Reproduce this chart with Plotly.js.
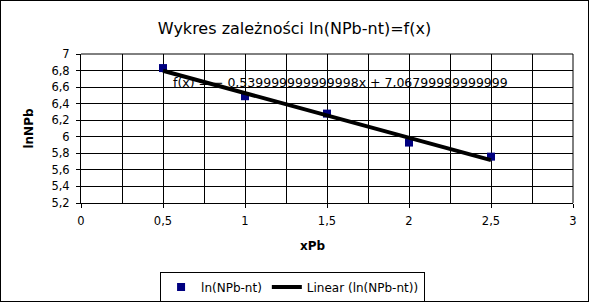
<!DOCTYPE html>
<html><head><meta charset="utf-8">
<script src="https://cdn.plot.ly/plotly-3.0.1.min.js"></script>
<style>
html,body{margin:0;padding:0;background:#fff;}
#wrap{position:absolute;left:0;top:0;width:587px;height:300px;border:1px solid #000;}
#chart{width:587px;height:300px;}
</style></head>
<body><div id="wrap"><div id="chart"></div></div>
<script>
const xValues = [0.5, 1, 1.5, 2, 2.5];
const yValues = [6.83, 6.49, 6.28, 5.93, 5.76];
const trendX = [0.5, 2.5];
const trendY = [6.798, 5.718];
const seriesName = 'ln(NPb-nt)';
const trendName = 'Linear (ln(NPb-nt))';
const equationText = 'f(x) = − 0,539999999999998x + 7,06799999999999';

const font = 'DejaVu Sans, sans-serif';
const traces = [
  {x: xValues, y: yValues, type: 'scatter', mode: 'markers', name: seriesName,
   marker: {symbol: 'square', size: 8, color: '#000080'}},
  {x: trendX, y: trendY, type: 'scatter', mode: 'lines', name: trendName,
   line: {color: '#000', width: 4}}
];
const layout = {
  width: 587, height: 300,
  margin: {l: 80, r: 15, t: 53, b: 98, autoexpand: false},
  paper_bgcolor: '#fff', plot_bgcolor: '#fff',
  separators: ', ',
  font: {family: font, size: 12, color: '#000'},
  title: {text: 'Wykres zależności ln(NPb-nt)=f(x)', font: {family: font, size: 16, color: '#000'},
          x: 0.5, xanchor: 'center', y: 0.91, yanchor: 'middle'},
  xaxis: {range: [0, 3], dtick: 0.5, tick0: 0, showgrid: true, gridcolor: '#000', gridwidth: 1,
          minor: {dtick: 0.25, showgrid: true, gridcolor: '#000', gridwidth: 1},
          ticks: 'outside', ticklen: 4, tickcolor: '#000', showline: true, linecolor: '#000',
          zeroline: false, mirror: false, tickfont: {size: 11.5}, ticklabelstandoff: 3},
  yaxis: {range: [5.2, 7], dtick: 0.2, tick0: 5.2, showgrid: true, gridcolor: '#000', gridwidth: 1,
          ticks: 'outside', ticklen: 4, tickcolor: '#000', showline: true, linecolor: '#000',
          zeroline: false, tickfont: {size: 11.5}, ticklabelstandoff: 4,
          title: {text: '<b>lnNPb</b>', font: {size: 12}, standoff: 15}},
  showlegend: true,
  legend: {orientation: 'h', x: 0.43, xanchor: 'center', y: -0.46, yanchor: 'top',
           bordercolor: '#000', borderwidth: 1, font: {size: 12}, itemwidth: 30},
  annotations: [
    {xref: 'x', yref: 'y', x: 0.55, y: 6.65, xanchor: 'left', yanchor: 'middle',
     text: equationText, showarrow: false, font: {size: 12.5, color: '#000'}},
    {xref: 'paper', yref: 'paper', x: 0.472, y: -0.288, xanchor: 'center', yanchor: 'middle',
     text: '<b>xPb</b>', showarrow: false, font: {size: 12, color: '#000'}}
  ],
  shapes: [
    {type: 'line', xref: 'paper', yref: 'paper', x0: 1, x1: 1, y0: 0, y1: 1, line: {color: '#000', width: 1}},
    {type: 'line', xref: 'paper', yref: 'paper', x0: 0, x1: 1, y0: 1, y1: 1, line: {color: '#000', width: 1}}
  ]
};
Plotly.newPlot('chart', traces, layout, {displayModeBar: false, staticPlot: true});
</script></body></html>
